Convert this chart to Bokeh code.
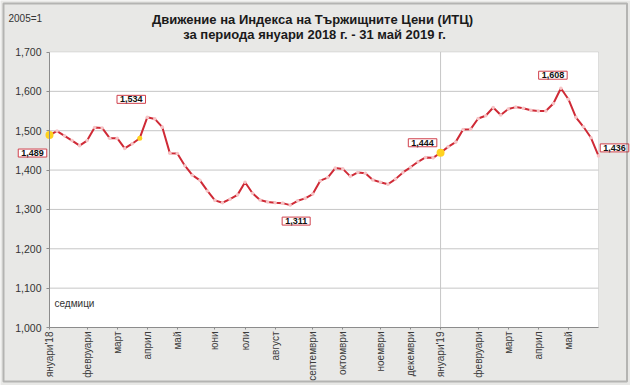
from math import pi
from bokeh.plotting import figure
from bokeh.models import Range1d, FixedTicker, NumeralTickFormatter, Label, BoxAnnotation
from bokeh.embed import file_html
from bokeh.resources import INLINE

# ---- data -------------------------------------------------------------
values = [
    1489, 1499, 1487, 1475, 1462, 1475, 1508, 1507, 1481, 1481,
    1455, 1467, 1481, 1534, 1530, 1509, 1443, 1442, 1411, 1387,
    1374, 1347, 1323, 1317, 1326, 1337, 1369, 1341, 1324, 1319,
    1317, 1316, 1311, 1322, 1328, 1339, 1373, 1381, 1405, 1403,
    1384, 1394, 1392, 1375, 1369, 1364, 1377, 1394, 1407, 1421,
    1432, 1431, 1444, 1459, 1471, 1503, 1504, 1531, 1538, 1559,
    1540, 1555, 1560, 1557, 1552, 1550, 1550, 1569, 1608, 1580,
    1534, 1510, 1482, 1436,
]
weeks = list(range(len(values)))

month_weeks = [0, 5, 9, 13, 17, 22, 26, 30, 35, 39, 44, 48, 52, 57, 61, 65, 69]
month_labels = ["януари'18", "февруари", "март", "април", "май", "юни", "юли",
                "август", "септември", "октомври", "ноември", "декември",
                "януари'19", "февруари", "март", "април", "май"]
y_ticks = [1000, 1100, 1200, 1300, 1400, 1500, 1600, 1700]
year_break_week = 52

highlight_weeks = [0, 12, 52]
highlight_sizes = [8, 5, 8]
labelled_weeks = [0, 13, 32, 52, 68, 73]
label_offsets = {0: (-17, -18), 13: (-16, 18), 32: (6, -16),
                 52: (-18, 10), 68: (-8, 13), 73: (16, 8)}

title1 = "Движение на Индекса на Тържищните Цени (ИТЦ)"
title2 = "за периода януари 2018 г. - 31 май 2019 г."
base_note = "2005=1"
x_note = "седмици"

FONT = "Liberation Sans"

# ---- layout (pixels) --------------------------------------------------
W, H = 630, 385
PL, PR, PT, PB = 49, 598, 51.5, 327          # plot-area edges
ymin, ymax = y_ticks[0], y_ticks[-1]
xs = (weeks[-1] - weeks[0]) / (PR - PL)
ys = (ymax - ymin) / (PB - PT)
x_start = weeks[0] - PL * xs
y_end = ymax + PT * ys


def X(px):
    return x_start + px * xs


def Y(py):
    return y_end - py * ys


p = figure(width=W, height=H, output_backend="svg", toolbar_location=None,
           x_range=Range1d(x_start, X(W)), y_range=Range1d(Y(H), y_end),
           min_border=0)
p.background_fill_color = "#e8e8e6"
p.border_fill_color = "#e8e8e6"
p.outline_line_color = None
p.grid.visible = False

# white plot area
p.add_layout(BoxAnnotation(left=weeks[0], right=weeks[-1], bottom=ymin, top=ymax,
                           fill_color="white", fill_alpha=1,
                           line_color="#a8a8a8", line_width=1, level="image"))
# outer frame
p.add_layout(BoxAnnotation(left=X(3), right=X(626.5), bottom=Y(381), top=Y(3),
                           fill_alpha=0, line_color="#3a3a3a", line_width=2,
                           level="overlay"))

# grid lines
inner = y_ticks[1:-1]
p.segment(x0=[weeks[0]] * len(inner), x1=[weeks[-1]] * len(inner),
          y0=inner, y1=inner, line_color="#c6c6c6", line_width=1)
p.segment(x0=[year_break_week], x1=[year_break_week], y0=[ymin], y1=[ymax],
          line_color="#c6c6c6", line_width=1)

# axes
p.yaxis.fixed_location = weeks[0]
p.yaxis.bounds = (ymin, ymax)
p.yaxis.ticker = FixedTicker(ticks=y_ticks)
p.yaxis.formatter = NumeralTickFormatter(format="0,0")
p.yaxis.axis_line_color = "#8c8c8c"
p.yaxis.major_tick_line_color = "#8c8c8c"
p.yaxis.major_tick_out = 3
p.yaxis.major_tick_in = 0
p.yaxis.minor_tick_line_color = None
p.yaxis.major_label_standoff = 5
p.yaxis.major_label_text_font = FONT
p.yaxis.major_label_text_font_size = "10.5px"
p.yaxis.major_label_text_color = "#333333"

p.xaxis.fixed_location = ymin
p.xaxis.bounds = (weeks[0], weeks[-1])
p.xaxis.ticker = FixedTicker(ticks=month_weeks)
p.xaxis.major_label_overrides = {w: l for w, l in zip(month_weeks, month_labels)}
p.xaxis.major_label_orientation = pi / 2
p.xaxis.axis_line_color = "#8c8c8c"
p.xaxis.major_tick_line_color = "#8c8c8c"
p.xaxis.major_tick_out = 2
p.xaxis.major_tick_in = 0
p.xaxis.minor_tick_line_color = None
p.xaxis.major_label_standoff = 2
p.xaxis.major_label_text_font = FONT
p.xaxis.major_label_text_font_size = "10px"
p.xaxis.major_label_text_color = "#3a3a3a"

# ---- series -----------------------------------------------------------
p.line(weeks, values, line_color="#cf2a36", line_width=2)
p.scatter(weeks, values, size=3.6, fill_color="#f6c4c6", line_color=None)
p.scatter(highlight_weeks, [values[i] for i in highlight_weeks],
          size=highlight_sizes, fill_color="#ffd21f", line_color=None)

for w in labelled_weeks:
    dx, dy = label_offsets[w]
    p.add_layout(Label(x=w, y=values[w], x_offset=dx, y_offset=dy,
                       text=f"{values[w]:,}", text_align="center",
                       text_baseline="middle", text_font=FONT,
                       text_font_style="bold", text_font_size="9px",
                       text_color="#111111", background_fill_color="white",
                       border_line_color="#d0404c", border_line_width=1,
                       padding=(3, 1)))

# ---- texts ------------------------------------------------------------
p.add_layout(Label(x=X(312), y=Y(19), text=title1, text_align="center",
                   text_baseline="middle", text_font=FONT, text_font_style="bold",
                   text_font_size="13px", text_color="#1a1a1a"))
p.add_layout(Label(x=X(314), y=Y(34), text=title2, text_align="center",
                   text_baseline="middle", text_font=FONT, text_font_style="bold",
                   text_font_size="13px", text_color="#1a1a1a"))
p.add_layout(Label(x=X(8), y=Y(18), text=base_note, text_align="left",
                   text_baseline="middle", text_font=FONT, text_font_size="10px",
                   text_color="#333333"))
p.add_layout(Label(x=weeks[0], y=ymin, x_offset=5, y_offset=24, text=x_note,
                   text_align="left", text_baseline="middle", text_font=FONT,
                   text_font_size="10px", text_color="#333333"))

open("out.html", "w").write(file_html(p, INLINE))
